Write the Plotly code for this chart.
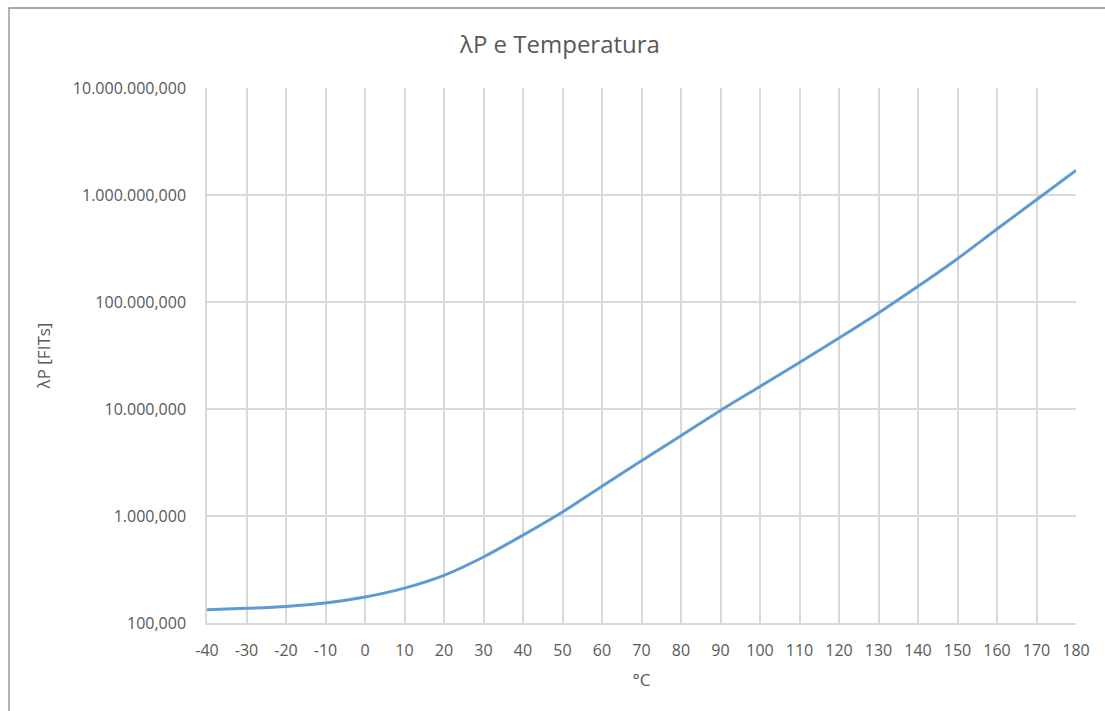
import plotly.graph_objects as go

# Data
temperature_c = [-40, -30, -20, -10, 0, 10, 20, 30, 40, 50, 60, 70, 80, 90,
                 100, 110, 120, 130, 140, 150, 160, 170, 180]
lambda_p_fits = [133, 137, 143, 154, 175, 212, 279, 414, 662, 1090, 1900, 3290,
                 5630, 9700, 16260, 27200, 46000, 78900, 140000, 254000, 481000,
                 904000, 1700000]

y_tick_values = [100, 1000, 10000, 100000, 1000000, 10000000]
y_tick_labels = ["100,000", "1.000,000", "10.000,000", "100.000,000",
                 "1.000.000,000", "10.000.000,000"]
x_tick_values = list(range(-40, 181, 10))
x_tick_labels = [str(v) for v in x_tick_values]  # plain hyphen-minus

title_text = "λP e Temperatura"
x_title = "°C"
y_title = "λP [FITs]"

FONT = "Open Sans"
TXT = "#595959"
GRID = "#d9d9d9"

W, H = 1105, 711
ML, MR, MT, MB = 207, 29, 88, 88
pw = W - ML - MR
ph = H - MT - MB

fig = go.Figure()
fig.add_trace(go.Scatter(
    x=temperature_c, y=lambda_p_fits, mode="lines",
    line=dict(color="#5f9bd3", width=3, shape="spline", smoothing=0.8),
    hoverinfo="x+y", showlegend=False,
))

# chart-area border (left and top visible)
bx = (9 - ML) / pw
by = (H - MB - 8) / ph
fig.add_shape(type="path", xref="paper", yref="paper",
              path=f"M {bx},-0.5 L {bx},{by} L 1.2,{by}",
              line=dict(color="#8c8c8c", width=1.3))

fig.update_layout(
    width=W, height=H,
    margin=dict(l=ML, r=MR, t=MT, b=MB, pad=0),
    paper_bgcolor="white", plot_bgcolor="white",
    font=dict(family=FONT, color=TXT, size=16),
    title=dict(text=title_text, x=560 / W, xanchor="center",
               y=1 - 45 / H, yanchor="middle",
               font=dict(family=FONT, size=24, color=TXT)),
    xaxis=dict(
        range=[-40, 180], tickmode="array", tickvals=x_tick_values,
        ticktext=x_tick_labels,
        showgrid=True, gridcolor=GRID, gridwidth=1.5,
        showline=True, linecolor=GRID, linewidth=1.5,
        zeroline=False, ticks="outside", ticklen=12,
        tickcolor="rgba(0,0,0,0)", tickfont=dict(size=16, color=TXT),
        title=dict(text=x_title, font=dict(size=17, color=TXT), standoff=14),
    ),
    yaxis=dict(
        type="log", range=[2, 7], tickmode="array",
        tickvals=y_tick_values, ticktext=y_tick_labels,
        showgrid=True, gridcolor=GRID, gridwidth=1.5,
        showline=True, linecolor=GRID, linewidth=1.5,
        zeroline=False, ticks="outside", ticklen=16,
        tickcolor="rgba(0,0,0,0)", tickfont=dict(size=16, color=TXT),
        title=dict(text=y_title, font=dict(size=17, color=TXT), standoff=18),
    ),
)

fig.write_html("out.html")
